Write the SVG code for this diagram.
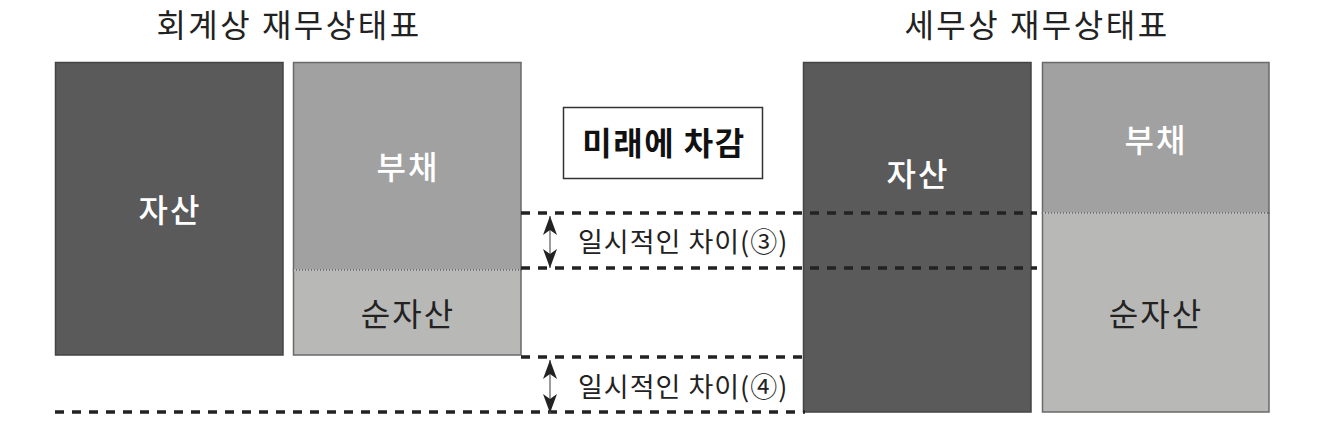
<svg xmlns="http://www.w3.org/2000/svg" width="1320" height="432" viewBox="0 0 1320 432">
<style>
  text { font-family: "Noto Sans CJK KR", "Noto Sans", sans-serif; }
  .title { font-size: 32px; fill: #222; text-anchor: middle; letter-spacing: 2.5px; }
  .wlab { font-size: 32px; fill: #ffffff; text-anchor: middle; font-weight: 500; letter-spacing: 2px; }
  .dlab { font-size: 32px; fill: #222; text-anchor: middle; letter-spacing: 2px; }
  .dark { fill: #5a5a5a; stroke: #444; stroke-width: 1.5; }
  .mid { fill: #a1a1a1; stroke: #6a6a6a; stroke-width: 1.5; }
  .light { fill: #b8b8b7; stroke: #6a6a6a; stroke-width: 1.5; }
  .div { stroke: #ffffff; stroke-width: 1; stroke-dasharray: 2 1; }
  .dash { stroke: #222; stroke-width: 3.4; stroke-dasharray: 9 8; fill: none; }
  .gap { font-size: 27px; fill: #222; letter-spacing: 1px; }
  .arr { stroke: #666; stroke-width: 1.3; marker-start: url(#ah); marker-end: url(#ah); }
</style>
<defs>
  <marker id="ah" viewBox="0 0 19 14" refX="19" refY="7" markerWidth="19" markerHeight="14" markerUnits="userSpaceOnUse" orient="auto-start-reverse">
    <path d="M0,0 L19,7 L0,14 L5,7 Z" fill="#222"/>
  </marker>
</defs>

<text class="title" x="289" y="37">회계상 재무상태표</text>
<text class="title" x="1037" y="37">세무상 재무상태표</text>

<g id="acc-asset">
  <rect class="dark" x="55.5" y="62.5" width="227.5" height="292.5"/>
  <text class="wlab" x="170" y="222">자산</text>
</g>
<g id="acc-liab">
  <rect class="mid" x="293.5" y="62.5" width="227.5" height="207.5"/>
  <text class="wlab" x="408" y="179">부채</text>
</g>
<g id="acc-equity">
  <rect class="light" x="293.5" y="270" width="227.5" height="85"/>
  <line class="div" x1="294" y1="270" x2="520" y2="270"/>
  <text class="dlab" x="408" y="326">순자산</text>
</g>

<g id="note">
  <rect x="563.5" y="107.5" width="199" height="71" fill="#fff" stroke="#333" stroke-width="1.5"/>
  <text x="664" y="155" font-size="32" font-weight="bold" fill="#111" text-anchor="middle" letter-spacing="1.5">미래에 차감</text>
</g>

<g id="tax-asset">
  <rect class="dark" x="803.5" y="62.5" width="227.5" height="349.5"/>
  <text class="wlab" x="918" y="186">자산</text>
</g>
<g id="tax-liab">
  <rect class="mid" x="1042.5" y="62.5" width="226.5" height="150.5"/>
  <text class="wlab" x="1156" y="152">부채</text>
</g>
<g id="tax-equity">
  <rect class="light" x="1042.5" y="213" width="226.5" height="199"/>
  <line class="div" x1="1043" y1="213" x2="1268" y2="213"/>
  <text class="dlab" x="1156" y="326">순자산</text>
</g>

<g id="connectors">
  <line class="dash" x1="521" y1="213" x2="1037" y2="213"/>
  <line class="dash" x1="521" y1="268" x2="1037" y2="268"/>
  <line class="dash" x1="521" y1="357" x2="805" y2="357"/>
  <line class="dash" x1="55" y1="412" x2="805" y2="412"/>
  <line class="arr" x1="550" y1="216" x2="550" y2="268"/>
  <line class="arr" x1="550" y1="360" x2="550" y2="413"/>
</g>

<g id="gap3">
  <text class="gap" x="578" y="252">일시적인 차이(③)</text>
</g>
<g id="gap4">
  <text class="gap" x="578" y="397">일시적인 차이(④)</text>
</g>
</svg>
